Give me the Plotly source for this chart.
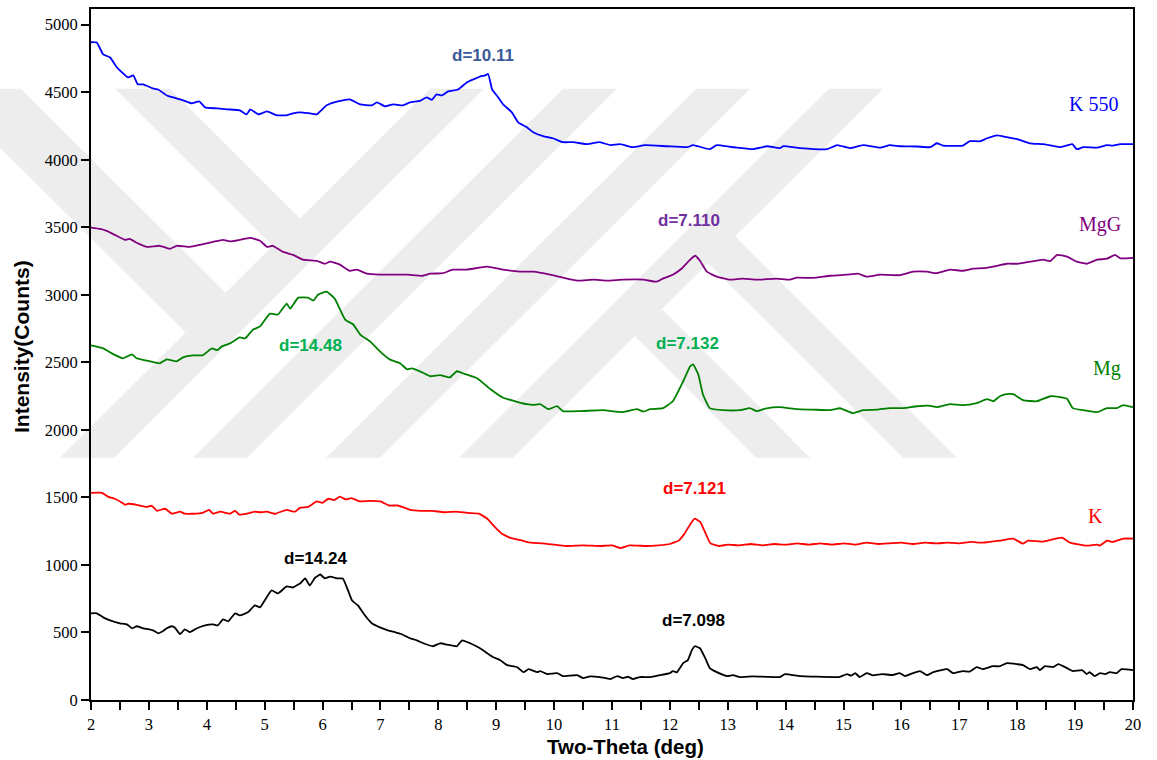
import plotly.graph_objects as go

# ---- diffraction patterns (2-theta in degrees, intensity in counts) ----
k550_x = [2.00, 2.10, 2.21, 2.33, 2.45, 2.64, 2.73, 2.81, 2.90, 3.07, 3.16, 3.31, 3.42, 3.59, 3.74, 3.87,
          3.97, 4.18, 4.35, 4.57, 4.69, 4.75, 4.89, 5.04, 5.21, 5.38, 5.49, 5.61, 5.75, 5.90, 6.07, 6.20,
          6.35, 6.47, 6.65, 6.85, 6.94, 7.08, 7.22, 7.39, 7.51, 7.68, 7.80, 7.89, 7.97, 8.06, 8.17, 8.34,
          8.49, 8.60, 8.72, 8.81, 8.86, 8.93, 9.01, 9.12, 9.27, 9.38, 9.53, 9.64, 9.81, 9.98, 10.15, 10.33,
          10.57, 10.79, 10.97, 11.14, 11.36, 11.57, 11.95, 12.30, 12.40, 12.69, 12.81, 13.04, 13.16, 13.44,
          13.68, 13.90, 13.96, 14.25, 14.71, 14.89, 15.11, 15.34, 15.63, 15.80, 15.97, 16.27, 16.50, 16.61,
          16.72, 17.06, 17.18, 17.36, 17.48, 17.65, 17.82, 18.00, 18.22, 18.45, 18.74, 18.95, 19.03, 19.14,
          19.38, 19.55, 19.65, 19.78, 20.00]
k550_y = [4870, 4868, 4780, 4757, 4683, 4609, 4624, 4558, 4558, 4528, 4520, 4476, 4461, 4440, 4417, 4432,
          4388, 4380, 4373, 4366, 4336, 4373, 4336, 4358, 4329, 4329, 4344, 4350, 4345, 4336, 4403, 4425,
          4440, 4447, 4410, 4403, 4425, 4395, 4410, 4403, 4425, 4436, 4461, 4444, 4484, 4476, 4506, 4520,
          4572, 4594, 4616, 4624, 4635, 4520, 4476, 4410, 4351, 4277, 4240, 4203, 4174, 4159, 4130, 4130,
          4115, 4130, 4108, 4115, 4093, 4108, 4100, 4093, 4108, 4078, 4108, 4095, 4090, 4078,
          4100, 4086, 4100, 4086, 4078, 4108, 4086, 4108, 4090, 4108, 4100, 4098, 4093, 4122,
          4105, 4105, 4137, 4137, 4159, 4181, 4167, 4152, 4122, 4115, 4093, 4115, 4078, 4093,
          4090, 4108, 4105, 4115, 4115]

mgg_x = [2.00, 2.16, 2.27, 2.41, 2.59, 2.67, 2.79, 2.96, 3.19, 3.36, 3.48, 3.71, 3.88, 4.11, 4.28, 4.40,
         4.57, 4.75, 4.92, 5.04, 5.14, 5.32, 5.49, 5.66, 5.90, 6.04, 6.13, 6.30, 6.47, 6.59, 6.77, 6.99,
         7.22, 7.46, 7.73, 7.86, 8.08, 8.25, 8.49, 8.84, 9.12, 9.41, 9.64, 9.93, 10.15, 10.40, 10.68, 10.91,
         11.19, 11.54, 11.77, 11.88, 12.05, 12.20, 12.35, 12.44, 12.52, 12.64, 12.81, 13.04, 13.26, 13.50,
         13.84, 14.07, 14.19, 14.47, 14.77, 15.06, 15.25, 15.40, 15.63, 15.97, 16.20, 16.44, 16.61, 16.84,
         17.06, 17.24, 17.41, 17.65, 17.82, 18.00, 18.22, 18.45, 18.57, 18.69, 18.86, 19.03, 19.20, 19.38,
         19.55, 19.69, 19.78, 20.00]
mgg_y = [3498, 3488, 3473, 3444, 3407, 3414, 3385, 3355, 3363, 3340, 3363, 3355, 3370, 3392, 3407, 3395,
         3407, 3422, 3400, 3355, 3363, 3318, 3296, 3260, 3252, 3230, 3245, 3223, 3178, 3186, 3156, 3149,
         3149, 3149, 3141, 3156, 3160, 3186, 3186, 3208, 3186, 3171, 3171, 3149, 3127, 3105, 3112, 3105,
         3112, 3112, 3097, 3120, 3149, 3193, 3260, 3289, 3252, 3171, 3134, 3112, 3120, 3112,
         3120, 3112, 3127, 3125, 3141, 3149, 3156, 3134, 3149, 3145, 3171, 3171, 3160, 3186,
         3178, 3193, 3197, 3215, 3230, 3230, 3245, 3260, 3250, 3296, 3282, 3245, 3230, 3260,
         3267, 3296, 3270, 3274]

mg_x = [2.00, 2.21, 2.36, 2.55, 2.71, 2.79, 3.02, 3.19, 3.31, 3.48, 3.59, 3.76, 3.93, 4.09, 4.18, 4.26,
        4.40, 4.57, 4.66, 4.80, 4.92, 5.09, 5.23, 5.38, 5.44, 5.58, 5.75, 5.84, 5.92, 6.07, 6.21, 6.39,
        6.53, 6.65, 6.82, 6.99, 7.16, 7.34, 7.46, 7.54, 7.72, 7.86, 8.03, 8.20, 8.32, 8.45, 8.67, 8.89,
        9.12, 9.36, 9.53, 9.64, 9.76, 9.90, 10.05, 10.15, 10.45, 10.84, 11.19, 11.43, 11.54, 11.66, 11.88,
        12.05, 12.23, 12.35, 12.40, 12.49, 12.57, 12.69, 12.92, 13.21, 13.38, 13.50, 13.65, 13.90, 14.19,
        14.47, 14.77, 14.94, 15.16, 15.34, 15.58, 15.80, 16.03, 16.27, 16.50, 16.61, 16.84, 17.06, 17.30,
        17.48, 17.59, 17.70, 17.82, 17.93, 18.10, 18.34, 18.57, 18.74, 18.86, 18.96, 19.14, 19.38, 19.55,
        19.72, 19.83, 20.00]
mg_y = [2625, 2603, 2566, 2530, 2559, 2530, 2507, 2493, 2522, 2507, 2537, 2552, 2552, 2603, 2590, 2618,
        2640, 2684, 2677, 2743, 2766, 2861, 2854, 2935, 2898, 2979, 2979, 2957, 3001, 3023, 2972, 2817,
        2780, 2706, 2655, 2581, 2522, 2493, 2448, 2455, 2426, 2397, 2405, 2389, 2434, 2415, 2382, 2305,
        2238, 2208, 2190, 2185, 2190, 2153, 2175, 2139, 2139, 2146, 2131, 2153, 2135, 2153, 2161,
        2212, 2360, 2470, 2485, 2411, 2264, 2161, 2146, 2146, 2161, 2139, 2158, 2168, 2153,
        2150, 2146, 2160, 2124, 2146, 2150, 2161, 2161, 2175, 2178, 2168, 2190, 2183, 2198,
        2227, 2212, 2249, 2264, 2264, 2220, 2212, 2249, 2242, 2230, 2161, 2146, 2131, 2161,
        2161, 2183, 2168]

k_x = [2.00, 2.19, 2.30, 2.41, 2.54, 2.59, 2.64, 2.79, 2.96, 3.05, 3.14, 3.28, 3.40, 3.54, 3.62, 3.76,
       3.93, 4.04, 4.11, 4.23, 4.40, 4.49, 4.56, 4.75, 4.83, 4.92, 5.04, 5.18, 5.38, 5.52, 5.61, 5.75,
       5.90, 6.00, 6.10, 6.20, 6.30, 6.40, 6.50, 6.65, 6.80, 7.00, 7.15, 7.30, 7.50, 7.70, 7.90, 8.10,
       8.30, 8.50, 8.70, 8.85, 9.00, 9.10, 9.25, 9.45, 9.60, 9.80, 10.00, 10.20, 10.50, 10.80, 11.00,
       11.15, 11.30, 11.60, 11.80, 12.00, 12.15, 12.25, 12.35, 12.43, 12.52, 12.60, 12.70, 12.85, 13.00,
       13.20, 13.40, 13.60, 13.80, 14.00, 14.20, 14.40, 14.60, 14.80, 15.00, 15.20, 15.40, 15.60, 15.80,
       16.00, 16.20, 16.40, 16.60, 16.80, 17.00, 17.20, 17.40, 17.70, 17.93, 18.10, 18.19, 18.45, 18.77,
       18.91, 19.20, 19.38, 19.43, 19.55, 19.65, 19.83, 20.00]
k_y = [1534, 1534, 1504, 1490, 1460, 1445, 1453, 1445, 1430, 1438, 1401, 1416, 1379, 1394, 1379, 1379,
       1386, 1408, 1379, 1394, 1379, 1401, 1372, 1386, 1394, 1390, 1394, 1379, 1408, 1394, 1423, 1430,
       1470, 1460, 1490, 1480, 1505, 1485, 1495, 1470, 1475, 1470, 1440, 1440, 1410, 1400, 1400, 1390,
       1395, 1385, 1380, 1340, 1270, 1230, 1200, 1180, 1165, 1160, 1150, 1140, 1145, 1140, 1145,
       1125, 1145, 1140, 1145, 1155, 1180, 1230, 1300, 1342, 1320, 1250, 1160, 1140, 1150,
       1145, 1155, 1145, 1155, 1150, 1160, 1150, 1160, 1150, 1160, 1150, 1165, 1155, 1160,
       1165, 1155, 1165, 1160, 1165, 1160, 1170, 1165, 1180, 1195, 1158, 1180, 1173, 1202,
       1165, 1143, 1150, 1143, 1180, 1170, 1195, 1195]

raw_x = [2.00, 2.10, 2.21, 2.33, 2.50, 2.62, 2.71, 2.79, 2.90, 3.07, 3.16, 3.24, 3.31, 3.40, 3.45, 3.54,
         3.62, 3.71, 3.83, 3.97, 4.11, 4.19, 4.28, 4.37, 4.49, 4.57, 4.71, 4.83, 4.92, 5.00, 5.12, 5.23,
         5.38, 5.49, 5.58, 5.61, 5.70, 5.78, 5.87, 5.96, 6.04, 6.13, 6.25, 6.35, 6.44, 6.51, 6.61, 6.73,
         6.85, 6.99, 7.13, 7.25, 7.37, 7.51, 7.63, 7.74, 7.91, 8.03, 8.15, 8.32, 8.41, 8.55, 8.72, 8.95,
         9.07, 9.19, 9.36, 9.47, 9.56, 9.71, 9.76, 9.88, 10.05, 10.15, 10.40, 10.50, 10.62, 10.79, 10.97,
         11.09, 11.19, 11.28, 11.36, 11.48, 11.66, 11.83, 12.00, 12.05, 12.12, 12.23, 12.31, 12.38, 12.43,
         12.52, 12.61, 12.69, 12.81, 12.99, 13.09, 13.21, 13.44, 13.90, 13.99, 14.25, 14.82, 14.94, 15.06,
         15.13, 15.20, 15.28, 15.40, 15.51, 15.66, 15.85, 15.97, 16.06, 16.20, 16.32, 16.44, 16.55, 16.79,
         16.89, 17.06, 17.18, 17.30, 17.41, 17.58, 17.70, 17.82, 18.00, 18.10, 18.22, 18.34, 18.39, 18.48,
         18.62, 18.71, 18.86, 18.96, 19.12, 19.20, 19.25, 19.34, 19.43, 19.52, 19.60, 19.72, 19.80, 20.00]
raw_y = [642, 642, 612, 590, 568, 560, 531, 546, 531, 516, 494, 509, 531, 546, 535, 487,
         523, 502, 531, 553, 560, 553, 597, 583, 642, 627, 649, 700, 686, 737, 811, 789,
         841, 833, 855, 862, 900, 848, 905, 929, 900, 914, 900, 900, 811, 737, 700, 627,
         568, 538, 516, 502, 487, 457, 442, 420, 398, 420, 410, 398, 442, 420, 383, 317,
         295, 258, 243, 206, 228, 206, 214, 192, 199, 177, 184, 162, 175, 170, 155,
         177, 162, 172, 155, 170, 170, 184, 199, 214, 205, 273, 295, 369, 398,
         383, 310, 236, 206, 177, 184, 170, 175, 170, 192, 177, 170, 172, 192,
         180, 199, 170, 199, 182, 192, 185, 199, 177, 199, 214, 184, 206, 228,
         199, 214, 210, 243, 228, 250, 250, 273, 265, 258, 228, 243, 221, 250,
         243, 265, 236, 214, 221, 192, 206, 177, 199, 192, 206, 199, 228, 221]

# ---- labels ----
series_names = ["K 550", "MgG", "Mg", "K"]
series_colors = ["#0000FF", "#800080", "#008000", "#FF0000", "#000000"]
name_pos = [(19.31, 4415), (19.43, 3521), (19.55, 2458), (19.36, 1366)]

peak_text = ["d=10.11", "d=7.110", "d=7.132", "d=14.48", "d=7.121", "d=14.24", "d=7.098"]
peak_pos = [(8.77, 4769), (12.33, 3551), (12.31, 2643), (5.80, 2628), (12.42, 1565), (5.87, 1048), (12.40, 591)]
peak_colors = ["#3B5A9A", "#7030A0", "#00B050", "#00B050", "#FF0000", "#000000", "#000000"]

x_ticks = [2 + 0.5 * i for i in range(37)]
x_tick_text = [str(int(v)) if v == int(v) else "" for v in x_ticks]
y_ticks = list(range(0, 5001, 500))

SERIF = "Liberation Serif, Times New Roman, serif"
SANS = "Liberation Sans, Arial, sans-serif"

W, H = 1157, 760
ML, MR, MT, MB = 91, 24, 7, 60
pw, ph = W - ML - MR, H - MT - MB


def px_to_paper(px, py):
    return (px - ML) / pw, (H - MB - py) / ph


# ---- light grey background emblem (page pixel outlines) ----
WM_TOP, WM_BOT, WM_W = 87, 457, 54
wm_polys = []
for b in [60, 193, 326, 459]:
    rise = WM_BOT - WM_TOP
    wm_polys.append([(b, WM_BOT), (b + WM_W, WM_BOT), (b + WM_W + rise, WM_TOP), (b + rise, WM_TOP)])
wm_polys += [
    [(115, 87), (170, 87), (300, 217), (272.5, 244.5)],
    [(-59, 87), (21, 87), (225.5, 291.5), (185.5, 331.5)],
    [(662, 308), (810, 457), (756, 457), (635, 335)],
    [(735, 235), (957, 457), (903, 457), (708, 262)],
]
shapes = []
for poly in wm_polys:
    pts = [px_to_paper(px, py) for px, py in poly]
    path = "M " + " L ".join(f"{x:.5f},{y:.5f}" for x, y in pts) + " Z"
    shapes.append(dict(type="path", path=path, xref="paper", yref="paper",
                       fillcolor="#EDEDED", line=dict(width=0), layer="below"))

fig = go.Figure()

series = [(k550_x, k550_y), (mgg_x, mgg_y), (mg_x, mg_y), (k_x, k_y), (raw_x, raw_y)]
for (xs, ys), col in zip(series, series_colors):
    fig.add_trace(go.Scatter(x=xs, y=ys, mode="lines",
                             line=dict(color=col, width=1.8, shape="spline", smoothing=0.4),
                             showlegend=False, hoverinfo="skip"))

annotations = []
for (nx, ny), txt, col in zip(name_pos, series_names, series_colors):
    annotations.append(dict(x=nx, y=ny, xref="x", yref="y", text=txt, showarrow=False,
                            xanchor="center", yanchor="middle",
                            font=dict(family=SERIF, size=20, color=col)))
for (px, py), txt, col in zip(peak_pos, peak_text, peak_colors):
    annotations.append(dict(x=px, y=py, xref="x", yref="y", text="<b>" + txt + "</b>", showarrow=False,
                            xanchor="center", yanchor="middle",
                            font=dict(family=SANS, size=17, color=col)))

tx, ty = px_to_paper(625, 747)
annotations.append(dict(x=tx, y=ty, xref="paper", yref="paper", text="<b>Two-Theta (deg)</b>",
                        showarrow=False, xanchor="center", yanchor="middle",
                        font=dict(family=SANS, size=20.5, color="black")))
tx, ty = px_to_paper(21, 346)
annotations.append(dict(x=tx, y=ty, xref="paper", yref="paper", text="<b>Intensity(Counts)</b>",
                        showarrow=False, xanchor="center", yanchor="middle", textangle=-90,
                        font=dict(family=SANS, size=21, color="black")))

fig.update_layout(
    width=W, height=H,
    margin=dict(l=ML, r=MR, t=MT, b=MB),
    paper_bgcolor="white", plot_bgcolor="rgba(0,0,0,0)",
    annotations=annotations,
    shapes=shapes,
    xaxis=dict(range=[2, 20], tickmode="array", tickvals=x_ticks, ticktext=x_tick_text,
               ticks="outside", ticklen=8, tickwidth=2, tickcolor="black",
               showline=True, linewidth=2, linecolor="black", mirror=True,
               showgrid=False, zeroline=False,
               tickfont=dict(family=SERIF, size=16.5, color="black")),
    yaxis=dict(range=[0, 5116], tickmode="array", tickvals=y_ticks,
               ticks="outside", ticklen=8, tickwidth=2, tickcolor="black",
               showline=True, linewidth=2, linecolor="black", mirror=True,
               showgrid=False, zeroline=False,
               tickfont=dict(family=SERIF, size=16.5, color="black")),
)

fig.write_html("out.html")
